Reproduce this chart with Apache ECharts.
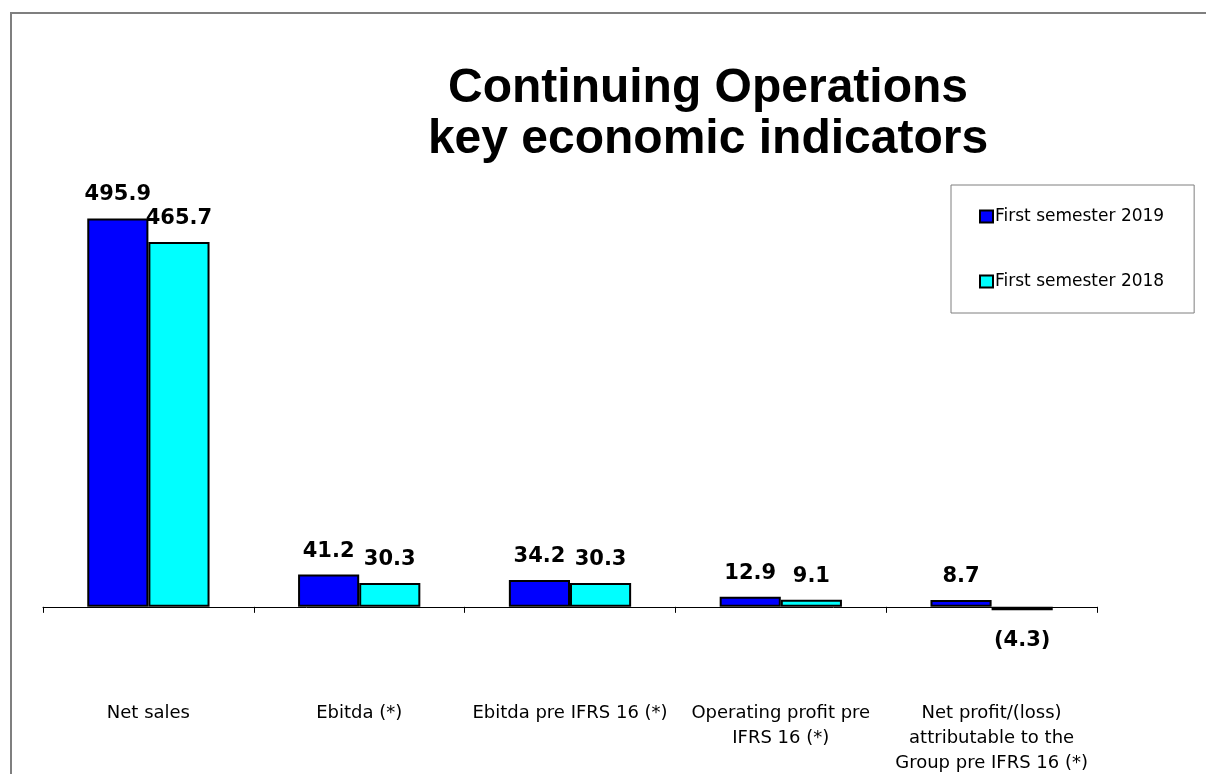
<!DOCTYPE html>
<html>
<head>
<meta charset="utf-8">
<title>Continuing Operations key economic indicators</title>
<script src="https://cdn.jsdelivr.net/npm/echarts@6/dist/echarts.min.js"></script>
<style>
  html, body { margin: 0; padding: 0; background: #fff; }
  #myChart1 { width: 1206px; height: 774px; }
</style>
</head>
<body>
<div id="myChart1"></div>
<script>
// 数据
const categories = [
  'Net sales',
  'Ebitda (*)',
  'Ebitda pre IFRS 16 (*)',
  'Operating profit pre\nIFRS 16 (*)',
  'Net profit/(loss)\nattributable to the\nGroup pre IFRS 16 (*)'
];
const seriesNames = ['First semester 2019', 'First semester 2018'];
const sem2019 = [495.9, 41.2, 34.2, 12.9, 8.7];
const sem2018 = [465.7, 30.3, 30.3, 9.1, -4.3];

// negative values get their label below the bar
function toItems (arr) {
  return arr.map(function (v) {
    if (v < 0) {
      return { value: v, label: { position: 'bottom', distance: 20 } };
    }
    return v;
  });
}

function fmt (p) {
  const v = p.value;
  return v < 0 ? '(' + Math.abs(v).toFixed(1) + ')' : v.toFixed(1);
}

const labelStyle = {
  show: true,
  position: 'top',
  distance: 13,
  formatter: fmt,
  fontFamily: 'DejaVu Sans',
  fontWeight: 'bold',
  fontSize: 21,
  color: '#000'
};

const myChart1 = echarts.init(document.getElementById('myChart1'));
myChart1.setOption({
  animation: false,
  backgroundColor: '#fff',
  color: ['#0000ff', '#00ffff'],
  graphic: [
    {
      type: 'rect',
      shape: { x: 11, y: 13, width: 1300, height: 900 },
      style: { fill: 'none', stroke: '#7f7f7f', lineWidth: 2 },
      silent: true,
      z: -1
    }
  ],
  title: {
    text: 'Continuing Operations\nkey economic indicators',
    left: 708,
    top: 63,
    textAlign: 'center',
    padding: 0,
    textStyle: {
      fontFamily: 'Liberation Sans',
      fontWeight: 'bold',
      fontSize: 48,
      lineHeight: 51,
      color: '#000'
    }
  },
  legend: {
    data: seriesNames,
    orient: 'vertical',
    left: 951,
    top: 185,
    padding: [23, 30, 23, 28],
    itemGap: 48,
    itemWidth: 13,
    itemHeight: 12,
    icon: 'rect',
    borderColor: '#7f7f7f',
    borderWidth: 1,
    backgroundColor: '#fff',
    textStyle: {
      fontFamily: 'DejaVu Sans',
      fontSize: 17,
      color: '#000',
      padding: [0, 0, 0, -3]
    }
  },
  grid: {
    left: 43,
    right: 109,
    top: 176,
    bottom: 128,
    containLabel: false,
    outerBoundsMode: 'none'
  },
  xAxis: {
    type: 'category',
    data: categories,
    axisLine: { onZero: true, lineStyle: { color: '#000', width: 1 } },
    axisTick: { show: true, length: 6, lineStyle: { color: '#000' } },
    axisLabel: {
      interval: 0,
      margin: 55,
      fontFamily: 'DejaVu Sans',
      fontSize: 18,
      lineHeight: 25,
      color: '#000',
      align: 'center'
    }
  },
  yAxis: {
    type: 'value',
    show: false,
    min: -50,
    max: 550,
    splitLine: { show: false }
  },
  series: [
    {
      name: seriesNames[0],
      type: 'bar',
      barGap: '0%',
      barCategoryGap: '42%',
      itemStyle: { borderColor: '#000', borderWidth: 2 },
      label: labelStyle,
      data: toItems(sem2019)
    },
    {
      name: seriesNames[1],
      type: 'bar',
      barGap: '0%',
      barCategoryGap: '42%',
      itemStyle: { borderColor: '#000', borderWidth: 2 },
      label: labelStyle,
      data: toItems(sem2018)
    }
  ]
});
</script>
</body>
</html>
